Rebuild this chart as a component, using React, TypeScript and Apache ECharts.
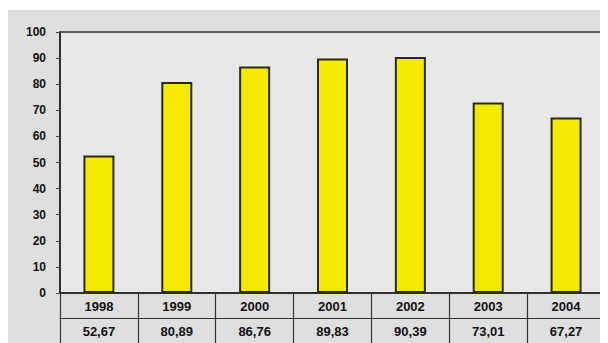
import React, { useEffect, useRef } from "react";
import * as echarts from "echarts";

const years = ["1998", "1999", "2000", "2001", "2002", "2003", "2004"];
const values = [52.67, 80.89, 86.76, 89.83, 90.39, 73.01, 67.27];
const valueLabels = ["52,67", "80,89", "86,76", "89,83", "90,39", "73,01", "67,27"];

export default function App() {
  const ref = useRef<HTMLDivElement>(null);
  useEffect(() => {
    const chart = echarts.init(ref.current!, null, { renderer: "svg" });
    const font = { fontFamily: "Liberation Sans Narrow, Liberation Sans", fontWeight: "bold" as const, fontSize: 13, color: "#111" };
    chart.setOption({
      animation: false,
      backgroundColor: "transparent",
      graphic: [
        { type: "rect", z: -10, shape: { x: 0, y: 2, width: 600, height: 340 }, style: { fill: "#dfdfdf" } },
      ],
      grid: {
        left: 52,
        top: 24,
        right: 3,
        bottom: 50,
        show: true,
        backgroundColor: "#e8e8e8",
        borderColor: "#333",
        borderWidth: 1.5,
      },
      yAxis: {
        type: "value",
        min: 0,
        max: 100,
        interval: 10,
        splitLine: { show: false },
        axisLine: { show: true, lineStyle: { color: "#222", width: 1.5 } },
        axisTick: { show: true, length: 4, lineStyle: { color: "#444" } },
        axisLabel: { ...font, fontSize: 12, margin: 14 },
      },
      xAxis: [
        {
          type: "category",
          data: years,
          position: "bottom",
          axisLine: { show: true, lineStyle: { color: "#222", width: 1.5 } },
          axisTick: { show: true, length: 25, alignWithLabel: false, lineStyle: { color: "#333", width: 1.2 } },
          axisLabel: { ...font, margin: 7 },
        },
        {
          type: "category",
          data: valueLabels,
          position: "bottom",
          offset: 25,
          axisLine: { show: true, lineStyle: { color: "#333", width: 1.2 } },
          axisTick: { show: true, length: 25, alignWithLabel: false, lineStyle: { color: "#333", width: 1.2 } },
          axisLabel: { ...font, margin: 7 },
        },
      ],
      series: [
        {
          type: "bar",
          xAxisIndex: 0,
          data: values,
          barWidth: 31,
          itemStyle: { color: "#f4ea00", borderColor: "#2a2a10", borderWidth: 2 },
        },
      ],
    });
    return () => chart.dispose();
  }, []);
  return <div ref={ref} style={{ width: 600, height: 335 }} />;
}
